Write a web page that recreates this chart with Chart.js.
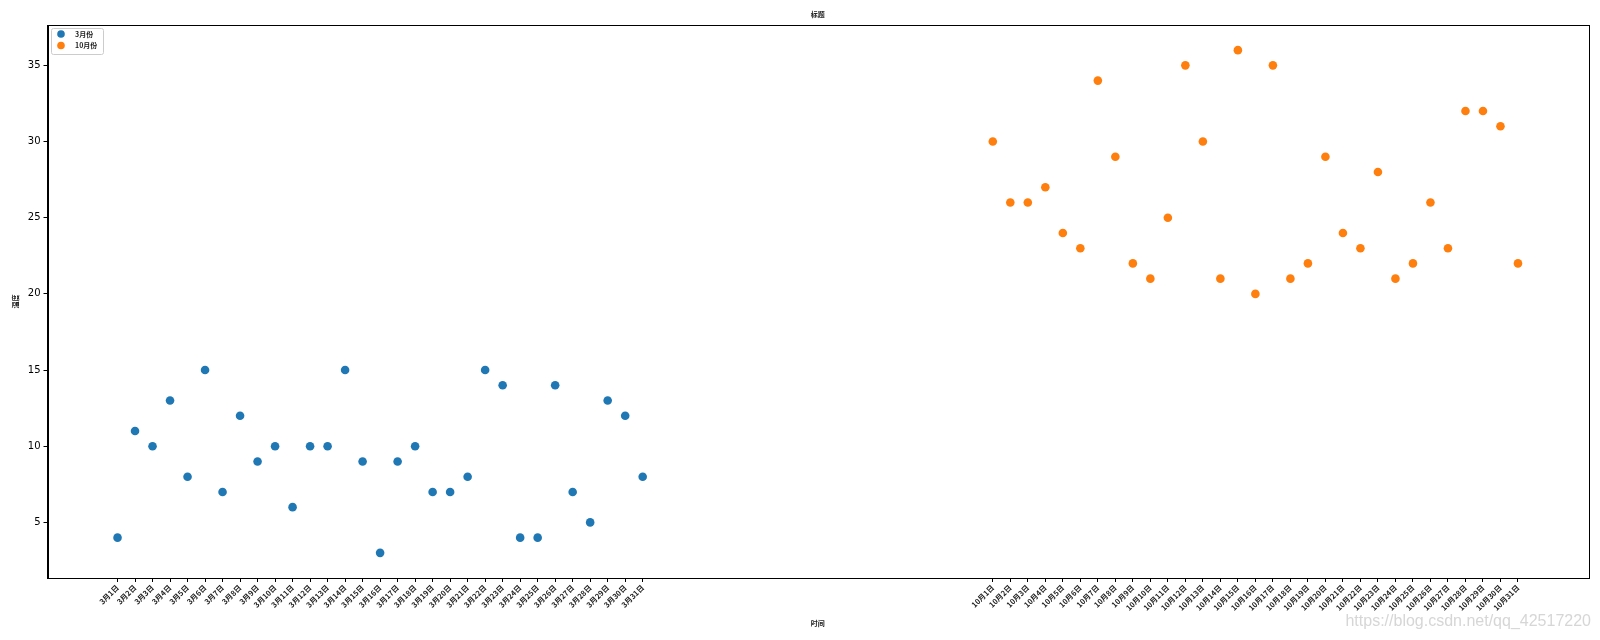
<!DOCTYPE html>
<html>
<head>
<meta charset="utf-8">
<script src="https://cdn.jsdelivr.net/npm/chart.js@4/dist/chart.umd.min.js"></script>
<style>
html,body{margin:0;padding:0;background:#fff;}
#wrap{width:1600px;height:640px;}
</style>
</head>
<body>
<div id="wrap"><canvas id="c" width="1600" height="640"></canvas></div>
<script>
const marchX = [1,2,3,4,5,6,7,8,9,10,11,12,13,14,15,16,17,18,19,20,21,22,23,24,25,26,27,28,29,30,31];
const marchTemps = [4,11,10,13,8,15,7,12,9,10,6,10,10,15,9,3,9,10,7,7,8,15,14,4,4,14,7,5,13,12,8];
const marchLabels = ['3月1日','3月2日','3月3日','3月4日','3月5日','3月6日','3月7日','3月8日','3月9日','3月10日','3月11日','3月12日','3月13日','3月14日','3月15日','3月16日','3月17日','3月18日','3月19日','3月20日','3月21日','3月22日','3月23日','3月24日','3月25日','3月26日','3月27日','3月28日','3月29日','3月30日','3月31日'];
const octX = [51,52,53,54,55,56,57,58,59,60,61,62,63,64,65,66,67,68,69,70,71,72,73,74,75,76,77,78,79,80,81];
const octTemps = [30,26,26,27,24,23,34,29,22,21,25,35,30,21,36,20,35,21,22,29,24,23,28,21,22,26,23,32,32,31,22];
const octLabels = ['10月1日','10月2日','10月3日','10月4日','10月5日','10月6日','10月7日','10月8日','10月9日','10月10日','10月11日','10月12日','10月13日','10月14日','10月15日','10月16日','10月17日','10月18日','10月19日','10月20日','10月21日','10月22日','10月23日','10月24日','10月25日','10月26日','10月27日','10月28日','10月29日','10月30日','10月31日'];
const seriesNames = ['3月份','10月份'];
const titleText = '标题';
const xTitle = '时间';
const yTitle = '温度';
const yTicks = [5,10,15,20,25,30,35];

const tickPos = marchX.concat(octX);
const tickLab = marchLabels.concat(octLabels);
const labelMap = {};
tickPos.forEach((v,i)=>{labelMap[v]=tickLab[i];});

const colors = ['#1f77b4','#ff7f0e'];
const cjk = '"Noto Sans CJK SC", sans-serif';

const decor = {
  id:'decor',
  afterDraw(chart){
    const ctx = chart.ctx, a = chart.chartArea;
    ctx.save();
    ctx.strokeStyle = '#000'; ctx.lineWidth = 1;
    ctx.strokeRect(Math.round(a.left)+0.5, Math.round(a.top)+0.5, Math.round(a.right-a.left), Math.round(a.bottom-a.top));
    ctx.fillStyle = '#222';
    ctx.textAlign = 'center'; ctx.textBaseline = 'middle';
    ctx.font = 'bold 7px ' + cjk;
    ctx.fillText(titleText, (a.left+a.right)/2, 14);
    ctx.fillText(xTitle, (a.left+a.right)/2, 623);
    ctx.save();
    ctx.translate(15, (a.top+a.bottom)/2);
    ctx.rotate(-Math.PI/2);
    ctx.fillText(yTitle, 0, 0);
    ctx.restore();
    // legend
    const lx = 51.5, ly = 28.5, lw = 52, lh = 26;
    ctx.fillStyle = 'rgba(255,255,255,0.8)';
    ctx.strokeStyle = '#ccc';
    ctx.beginPath();
    if (ctx.roundRect) ctx.roundRect(lx, ly, lw, lh, 2); else ctx.rect(lx, ly, lw, lh);
    ctx.fill(); ctx.stroke();
    chart.data.datasets.forEach((ds,i)=>{
      const cy = 34 + i*11.5;
      ctx.fillStyle = ds.backgroundColor;
      ctx.beginPath(); ctx.arc(61, cy, 3.8, 0, Math.PI*2); ctx.fill();
      ctx.fillStyle = '#222';
      ctx.textAlign = 'left';
      ctx.font = 'bold 7px ' + cjk;
      ctx.fillText(ds.label, 75, cy);
    });
    // watermark
    ctx.fillStyle = 'rgba(200,200,200,0.75)';
    ctx.font = '16px "Liberation Sans", Arial, sans-serif';
    ctx.textAlign = 'right';
    ctx.textBaseline = 'middle';
    ctx.fillText('https://blog.csdn.net/qq_42517220', 1591, 622);
    ctx.restore();
  }
};

new Chart(document.getElementById('c'), {
  type: 'scatter',
  data: {
    datasets: [
      {label: seriesNames[0], data: marchX.map((x,i)=>({x:x, y:marchTemps[i]})), backgroundColor: colors[0], borderColor: colors[0], pointRadius: 4.3, pointHoverRadius: 4.3, borderWidth: 0},
      {label: seriesNames[1], data: octX.map((x,i)=>({x:x, y:octTemps[i]})), backgroundColor: colors[1], borderColor: colors[1], pointRadius: 4.3, pointHoverRadius: 4.3, borderWidth: 0}
    ]
  },
  options: {
    responsive: false,
    animation: false,
    events: [],
    layout: {padding: {left: 0, top: 25, right: 12, bottom: 0}},
    plugins: {legend: {display: false}, title: {display: false}, tooltip: {enabled: false}},
    scales: {
      x: {
        type: 'linear', min: -3, max: 85,
        afterBuildTicks(s){ s.ticks = tickPos.map(v=>({value:v})); },
        afterFit(s){ s.height = 62; },
        grid: {drawOnChartArea: false, drawTicks: true, tickLength: 4, color: '#000', tickWidth: 1},
        border: {display: true, color: '#000'},
        ticks: {
          autoSkip: false, minRotation: 45, maxRotation: 45, padding: 1,
          color: '#222', font: {family: cjk, size: 7.5, weight: 'bold'},
          callback: (v)=>labelMap[v] || ''
        }
      },
      y: {
        type: 'linear', min: 1.35, max: 37.65,
        afterBuildTicks(s){ s.ticks = yTicks.map(v=>({value:v})); },
        afterFit(s){ s.width = 47.5; },
        grid: {drawOnChartArea: false, drawTicks: true, tickLength: 4, color: '#000'},
        border: {display: true, color: '#000'},
        ticks: {color: '#000', font: {family: '"DejaVu Sans"', size: 10}, padding: 3}
      }
    }
  },
  plugins: [decor]
});
</script>
</body>
</html>
